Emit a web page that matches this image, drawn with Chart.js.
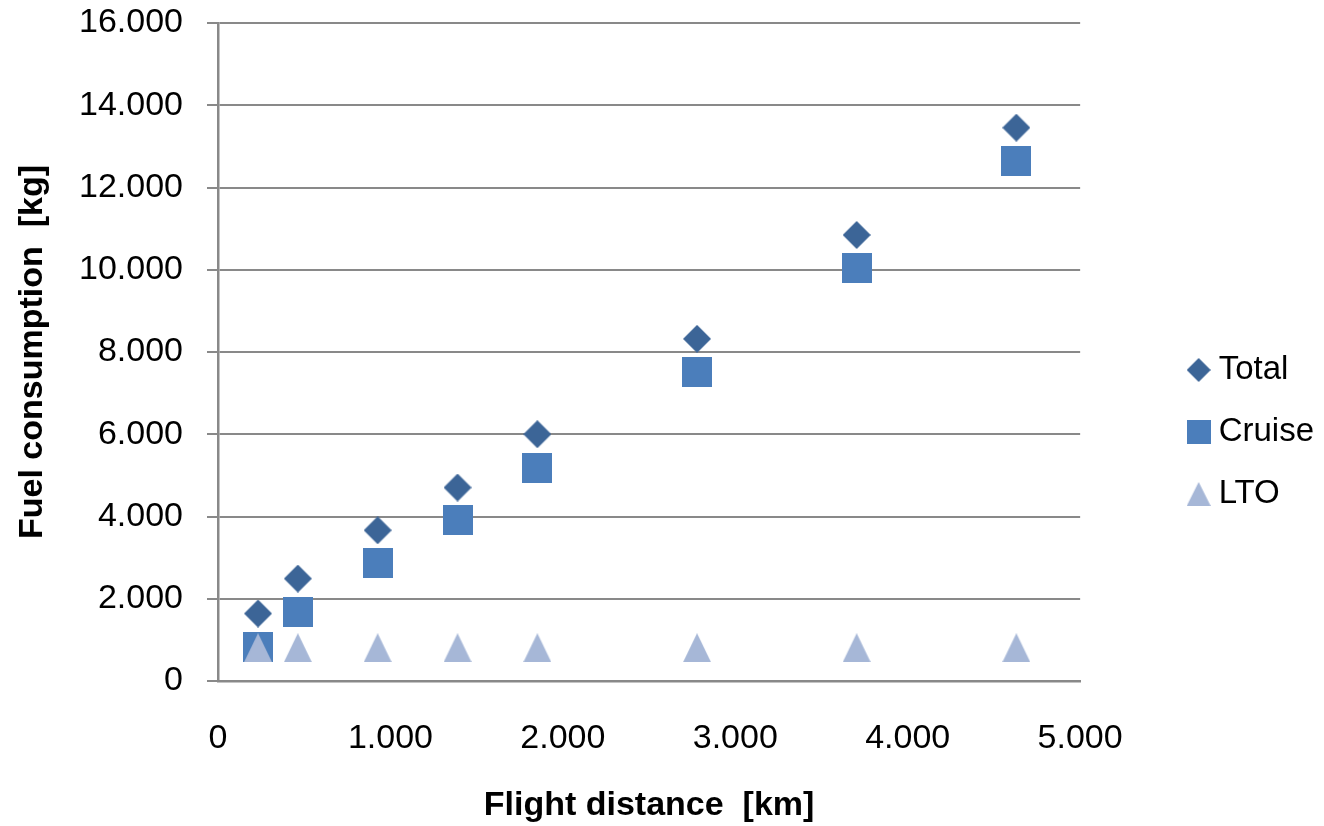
<!DOCTYPE html>
<html>
<head>
<meta charset="utf-8">
<title>Fuel consumption vs flight distance</title>
<script src="https://cdn.jsdelivr.net/npm/chart.js@4/dist/chart.umd.min.js"></script>
<style>
    html, body { margin: 0; padding: 0; background: #ffffff; }
    #wrap { width: 1324px; height: 826px; position: relative; }
</style>
</head>
<body>
<div id="wrap"><canvas id="fuelChart"></canvas></div>
<script>
// Flight distances (km) and fuel burn (kg)
const distances = [232, 463, 926, 1389, 1852, 2778, 3704, 4630];
const totalFuel = [1640, 2490, 3665, 4705, 6000, 8320, 10845, 13455];
const cruiseFuel = [830, 1685, 2865, 3910, 5190, 7515, 10035, 12645];
const ltoFuel = [810, 810, 810, 810, 810, 810, 810, 810];
const seriesNames = ["Total", "Cruise", "LTO"];

const xTicks = [0, 1000, 2000, 3000, 4000, 5000];
const yTicks = [0, 2000, 4000, 6000, 8000, 10000, 12000, 14000, 16000];

const FONT = "'Liberation Sans', Arial, sans-serif";
const GRID = "#898989";
const COLORS = ["#3C6597", "#4B7EBB", "#A6B7D7"];

function toPoints(values) {
    return distances.map((d, i) => ({ x: d, y: values[i] }));
}

// "16000" -> "16.000"
function formatThousands(v) {
    return String(v).replace(/\B(?=(\d{3})+(?!\d))/g, ".");
}

// small canvases used as point styles (Excel-like marker shapes)
function makeMarker(shape, w, h, color) {
    const c = document.createElement("canvas");
    c.width = w;
    c.height = h;
    const g = c.getContext("2d");
    g.fillStyle = color;
    g.beginPath();
    if (shape === "diamond") {
        g.moveTo(w / 2, 0);
        g.lineTo(w, h / 2);
        g.lineTo(w / 2, h);
        g.lineTo(0, h / 2);
    } else if (shape === "square") {
        g.rect(0, 0, w, h);
    } else {
        g.moveTo(w / 2, 0);
        g.lineTo(w, h);
        g.lineTo(0, h);
    }
    g.closePath();
    g.fill();
    return c;
}

const plotMarkers = [
    makeMarker("diamond", 28, 28, COLORS[0]),
    makeMarker("square", 30, 30, COLORS[1]),
    makeMarker("triangle", 28, 29, COLORS[2])
];
const legendMarkers = [
    makeMarker("diamond", 24, 24, COLORS[0]),
    makeMarker("square", 24, 24, COLORS[1]),
    makeMarker("triangle", 24, 24, COLORS[2])
];

const ctx = document.getElementById("fuelChart");

new Chart(ctx, {
    type: "scatter",
    data: {
        datasets: [
            {
                label: seriesNames[0],
                data: toPoints(totalFuel),
                pointStyle: plotMarkers[0],
                pointRadius: 14,
                backgroundColor: COLORS[0],
                borderColor: COLORS[0],
                order: 2
            },
            {
                label: seriesNames[1],
                data: toPoints(cruiseFuel),
                pointStyle: plotMarkers[1],
                pointRadius: 15,
                backgroundColor: COLORS[1],
                borderColor: COLORS[1],
                order: 1
            },
            {
                label: seriesNames[2],
                data: toPoints(ltoFuel),
                pointStyle: plotMarkers[2],
                pointRadius: 14,
                backgroundColor: COLORS[2],
                borderColor: COLORS[2],
                order: 0
            }
        ]
    },
    options: {
        responsive: true,
        maintainAspectRatio: false,
        animation: false,
        layout: { padding: { top: 23, left: 0, right: 0, bottom: 0 } },
        plugins: {
            tooltip: { enabled: false },
            legend: {
                position: "right",
                title: { display: true, text: "", font: { size: 10 }, padding: 1.5 },
                labels: {
                    usePointStyle: true,
                    boxWidth: 7,
                    boxHeight: 18,
                    padding: 29,
                    color: "#000000",
                    font: { family: FONT, size: 33 },
                    sort: (a, b) => a.datasetIndex - b.datasetIndex,
                    generateLabels: (chart) => {
                        const items = Chart.defaults.plugins.legend.labels.generateLabels(chart);
                        items.forEach(item => { item.pointStyle = legendMarkers[item.datasetIndex]; });
                        return items;
                    }
                }
            }
        },
        scales: {
            x: {
                type: "linear",
                min: xTicks[0],
                max: xTicks[xTicks.length - 1],
                afterBuildTicks: (axis) => { axis.ticks = xTicks.map(v => ({ value: v })); },
                afterFit: (axis) => { axis.height = 145; },
                grid: { display: false, drawTicks: false, tickLength: 0 },
                border: { display: true, color: GRID, width: 2.5 },
                ticks: {
                    color: "#000000",
                    padding: 37,
                    maxRotation: 0,
                    font: { family: FONT, size: 34 },
                    callback: (v) => formatThousands(v)
                },
                title: {
                    display: true,
                    text: "Flight distance  [km]",
                    color: "#000000",
                    font: { family: FONT, size: 34, weight: "bold" },
                    padding: { top: 0, bottom: 0 }
                }
            },
            y: {
                type: "linear",
                min: yTicks[0],
                max: yTicks[yTicks.length - 1],
                afterBuildTicks: (axis) => { axis.ticks = yTicks.map(v => ({ value: v })); },
                afterFit: (axis) => {
                    axis.width = 218;
                    axis.paddingTop = 0;
                    axis.paddingBottom = 0;
                },
                grid: { color: GRID, lineWidth: 2, drawTicks: true, tickLength: 11, tickColor: GRID },
                border: { display: true, color: GRID, width: 2.5 },
                ticks: {
                    color: "#000000",
                    padding: 24,
                    font: { family: FONT, size: 34 },
                    callback: (v) => formatThousands(v)
                },
                title: {
                    display: true,
                    text: "Fuel consumption  [kg]",
                    color: "#000000",
                    font: { family: FONT, size: 34, weight: "bold" },
                    padding: { top: 12, bottom: 0 }
                }
            },
            // empty spacer between the plot and the legend
            gap: {
                type: "linear",
                position: "right",
                display: true,
                afterFit: (axis) => {
                    axis.width = 86;
                    axis.paddingTop = 0;
                    axis.paddingBottom = 0;
                },
                grid: { display: false, drawTicks: false },
                border: { display: false },
                ticks: { display: false }
            }
        }
    }
});
</script>
</body>
</html>
